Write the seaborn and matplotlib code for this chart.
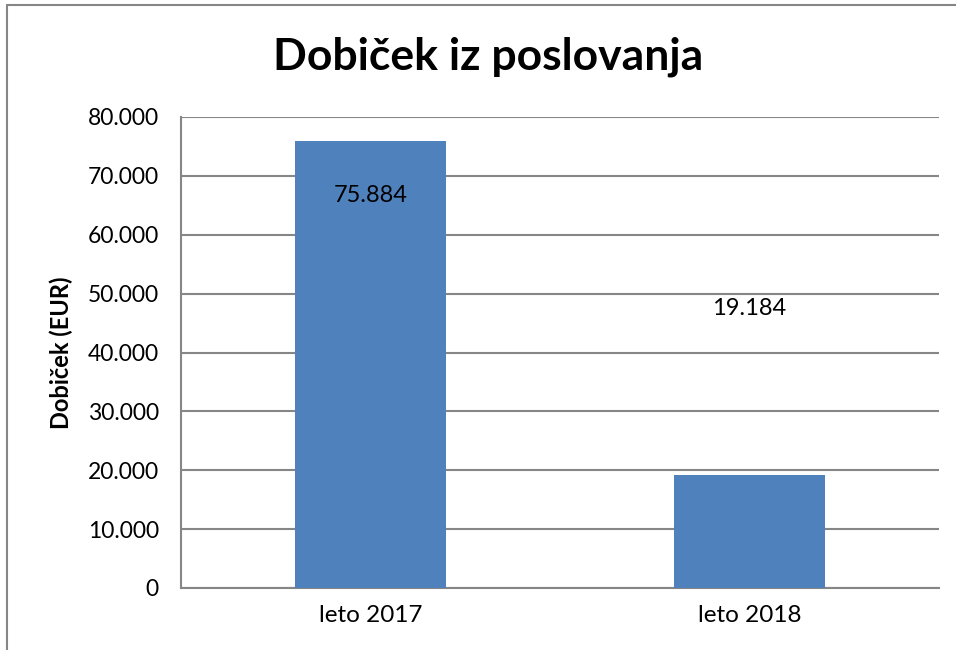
import pandas as pd
import seaborn as sns
import matplotlib.pyplot as plt
from matplotlib.lines import Line2D
from matplotlib.ticker import FuncFormatter, MultipleLocator

# Data
categories = ['leto 2017', 'leto 2018']
profit = [75884, 19184]
label_texts = ['75.884', '19.184']
label_y = [66750, 47400]

df = pd.DataFrame({'leto': categories, 'dobicek': profit})

sns.set_style('white')
plt.rcParams['font.family'] = ['Lato', 'DejaVu Sans']

fig = plt.figure(figsize=(9.56, 6.5), dpi=100)
ax = fig.add_axes([181 / 956, 1 - 588 / 650, 758 / 956, 471 / 650])

sns.barplot(data=df, x='leto', y='dobicek', color='#4F81BD', width=0.4,
            saturation=1, linewidth=0, ax=ax, zorder=3)

grid_col = '#868686'
ax.set_ylim(0, 80000)
ax.set_xlim(-0.5, 1.5)
ax.yaxis.set_major_locator(MultipleLocator(10000))
ax.yaxis.set_major_formatter(FuncFormatter(lambda v, p: f'{int(v):,}'.replace(',', '.')))
ax.grid(axis='y', color=grid_col, linewidth=1.5, zorder=0)
ax.set_axisbelow(True)

for s in ['top', 'right']:
    ax.spines[s].set_visible(False)
for s in ['left', 'bottom']:
    ax.spines[s].set_color(grid_col)
    ax.spines[s].set_linewidth(1.5)

# category ticks sit between groups
ax.set_xticks([-0.5, 0.5, 1.5], minor=False)
ax.set_xticklabels([])
ax.set_xticks([0, 1], minor=True)
ax.set_xticklabels(categories, minor=True)
ax.tick_params(axis='x', which='major', length=8, width=1.5, color=grid_col, direction='out')
ax.tick_params(axis='x', which='minor', length=0, labelsize=17.5, pad=12, labelcolor='black')
ax.tick_params(axis='y', length=7, width=1.5, color=grid_col, direction='out', labelsize=16.5,
               pad=9, labelcolor='black')

ax.set_xlabel('')
ax.set_ylabel('Dobiček (EUR)', fontsize=17, fontweight='bold', color='black')
ax.yaxis.set_label_coords(-0.142, 0.5)

for i, (t, y) in enumerate(zip(label_texts, label_y)):
    ax.text(i, y, t, ha='center', va='center', fontsize=17, color='black', zorder=4)

fig.text(488 / 956, 1 - 57 / 650, 'Dobiček iz poslovanja', ha='center', va='center',
         fontsize=32, fontweight='bold', color='black')

# chart area frame (top and left visible)
fig.add_artist(Line2D([7 / 956, 1.0], [1 - 5 / 650, 1 - 5 / 650], color=grid_col, linewidth=1.5,
                      transform=fig.transFigure))
fig.add_artist(Line2D([7 / 956, 7 / 956], [0, 1 - 5 / 650], color=grid_col, linewidth=1.5,
                      transform=fig.transFigure))

fig.savefig('out.png', dpi=100)
